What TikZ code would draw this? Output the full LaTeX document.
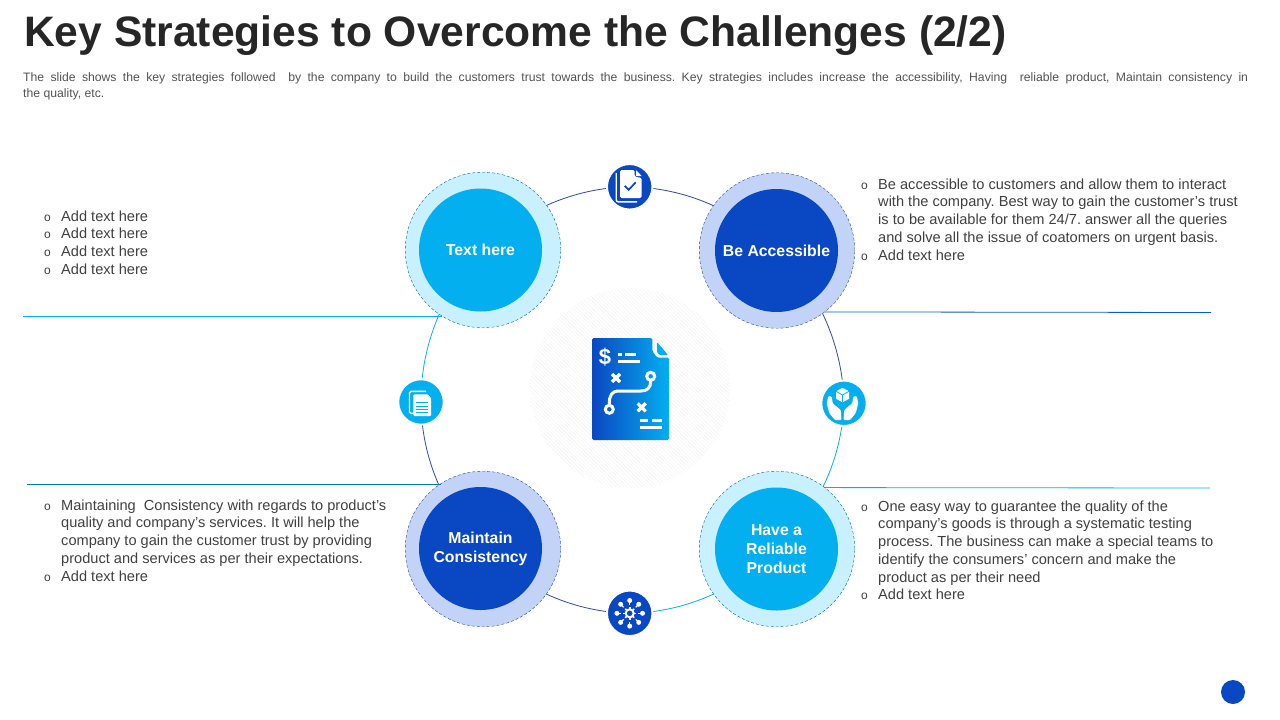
\documentclass[tikz,border=0pt]{standalone}
\usepackage{fontspec}
\setmainfont{Liberation Sans}
\usepackage{xcolor}
\usepackage{tikz}
\usetikzlibrary{positioning,backgrounds,patterns.meta}

\definecolor{keydark}{HTML}{0A47C2}
\definecolor{keylight}{HTML}{04AFF0}
\definecolor{haloDark}{HTML}{C3D3F7}
\definecolor{haloLight}{HTML}{C9F0FE}
\definecolor{ringDark}{HTML}{2B4AA0}
\definecolor{bodygray}{HTML}{404040}

\newcommand{\bul}{\llap{\fontsize{12}{12}\selectfont o\hspace{10.5pt}}}
\frenchspacing

\begin{document}
\begin{tikzpicture}[
    x=1pt, y=-1pt,
    halo/.style={circle, inner sep=0pt, minimum size=155.5pt, densely dashed, line width=.4pt},
    halodark/.style={halo, fill=haloDark, draw=ringDark},
    halolight/.style={halo, fill=haloLight, draw=keylight!60!black},
    core/.style={circle, inner sep=0pt, minimum size=123pt, align=center, text=white,
                 font=\fontsize{15.8}{19}\selectfont\bfseries},
    coredark/.style={core, fill=keydark},
    corelight/.style={core, fill=keylight},
    icondark/.style={circle, inner sep=0pt, minimum size=45.5pt, fill=keydark, draw=white, line width=2pt},
    iconlight/.style={circle, inner sep=0pt, minimum size=45.5pt, fill=keylight, draw=white, line width=2pt},
    bullets/.style={anchor=north west, inner sep=0pt, align=left, text=bodygray,
                    font=\fontsize{14.6}{17.7}\selectfont},
    ringseg/.style={bend left=22.5, looseness=.885},
    ringd/.style={ringDark, line width=.8pt},
    ringl/.style={keylight, line width=.8pt},
    glyph/.style={white, line width=3pt},
]
\useasboundingbox (0,0) rectangle (1280,720);

\node[anchor=base west, inner sep=0pt, text=black!85, font=\fontsize{42.6}{46}\selectfont\bfseries] (title) at (24,46)
    {Key Strategies to Overcome the Challenges (2/2)};
\node[anchor=north west, inner sep=0pt, text width=1225pt, align=justify, text=bodygray!90,
      font=\fontsize{12.2}{16.5}\selectfont] (intro) at (23,72)
    {The slide shows the key strategies followed \ by the company to build the customers trust towards the business. Key strategies includes increase the accessibility, Having \ reliable product, Maintain consistency in\linebreak the quality, etc.};

% the four main circles
\node[halolight] (textouter) at (483,250) {};
\node[corelight] (textcore) at (480.5,250) {Text here};
\node[halodark] (accessouter) at (777,250.5) {};
\node[coredark] (accesscore) at (776.5,250.5) {Be Accessible};
\node[halodark] (maintainouter) at (483,549) {};
\node[coredark] (maintaincore) at (480.5,548.5) {Maintain\\Consistency};
\node[halolight] (productouter) at (777,549) {};
\node[corelight] (productcore) at (776.5,549) {Have a\\Reliable\\Product};

% small icons on the ring
\node[icondark] (checkicon) at (629.7,186.8) {};
\node[iconlight] (boxicon) at (844,403.3) {};
\node[icondark] (neticon) at (629.7,613.3) {};
\node[iconlight] (docicon) at (421,402) {};

% free ends of the long rules
\coordinate (ruletl) at (23,316);
\coordinate (rulebl) at (27,484);
\coordinate (ruletr) at (1211,312.5);
\coordinate (rulebr) at (1210,488);

\begin{scope}[on background layer]
\fill[pattern={Lines[angle=-45,distance=2.6pt,line width=.3pt]}, pattern color=black!7] (630,388) circle (100);
\draw[ringd] (textouter.center) to[ringseg] (checkicon.center);
\draw[ringd] (checkicon.center) to[ringseg] (accessouter.center);
\draw[ringd] (accessouter.center) to[ringseg] (boxicon.center);
\draw[ringl] (boxicon.center) to[ringseg] (productouter.center);
\draw[ringl] (productouter.center) to[ringseg] (neticon.center);
\draw[ringd] (neticon.center) to[ringseg] (maintainouter.center);
\draw[ringd] (maintainouter.center) to[ringseg] (docicon.center);
\draw[ringl] (docicon.center) to[ringseg] (textouter.center);
\end{scope}

\draw[ringl] (ruletl) -- (ruletl -| textouter.238);
\draw[keylight!70!black, line width=.8pt] (rulebl) -- (rulebl -| maintainouter.123);
\draw[keydark!80!keylight, line width=.8pt] (ruletr) -- (accessouter.-52);
\draw[ringl] (rulebr) -- (productouter.52);

% text blocks
\node[bullets] (tltext) at (61,210.5) {\bul Add text here\\\bul Add text here\\\bul Add text here\\\bul Add text here};
\node[bullets] (trtext) at (878,178.5) {\bul Be accessible to customers and allow them to interact\\with the company. Best way to gain the customer's trust\\is to be available for them 24/7. answer all the queries\\and solve all the issue of coatomers on urgent basis.\\\bul Add text here};
\node[bullets] (bltext) at (61,499.5) {\bul Maintaining \ Consistency with regards to product's\\quality and company's services. It will help the\\company to gain the customer trust by providing\\product and services as per their expectations.\\\bul Add text here};
\node[bullets] (brtext) at (878,500.5) {\bul One easy way to guarantee the quality of the\\company's goods is through a systematic testing\\process. The business can make a special teams to\\identify the consumers' concern and make the\\product as per their need\\\bul Add text here};

\node[circle, inner sep=0pt, minimum size=24pt, fill=keydark] (pagedot) at (1233,692) {};

% centre document
\shade[left color=keydark, right color=keylight, rounded corners=1.5pt]
    (592,338) -- (652.3,338) -- (652.3,351) -- (657,357.5) -- (669,357.5) -- (669,440) -- (592,440) -- cycle;
\fill[keylight, rounded corners=1pt] (657,342) -- (668,355) -- (659.5,355) -- (657,352) -- cycle;
\node[text=white, inner sep=0pt, font=\fontsize{22}{22}\selectfont\bfseries] (dollar) at (605,357) {\$};
\draw[glyph] (618,354) -- (622,354) (625,354) -- (636,354) (618,361) -- (640,361);
\draw[glyph] (640,420) -- (648,420) (652,420) -- (662,420) (640,427.7) -- (662,427.7);
\draw[glyph, line width=3.2pt] (612,374) -- (620,382) (620,374) -- (612,382);
\draw[glyph, line width=3.2pt] (637.7,403.3) -- (645.7,411.3) (645.7,403.3) -- (637.7,411.3);
\draw[glyph] (650.7,381) .. controls (650.7,388) and (647,391) .. (641,391)
    -- (619,391) .. controls (612,391) and (609.3,395) .. (609.3,404);
\draw[glyph] (650.7,376.3) circle (4);
\draw[glyph] (609.3,409.3) circle (4);

% check icon
\begin{scope}[shift={(checkicon.center)}]
\draw[white, line width=1.4pt, rounded corners=2pt] (-13.5,-14) -- (-13.5,15) -- (7.5,15);
\fill[white, rounded corners=1.5pt] (-9.7,-16.8) -- (5,-16.8) -- (5,-10) -- (12,-9) -- (12,11.2) -- (-9.7,11.2) -- cycle;
\fill[white] (6.5,-16.5) -- (12,-10.8) -- (6.5,-10.8) -- cycle;
\draw[keydark, line width=1.7pt] (-5,-1) -- (-1,3) -- (6,-4.5);
\end{scope}

% hands icon
\begin{scope}[shift={(boxicon.center)}]
\fill[white] (-1.5,-15.5) -- (5,-12) -- (5,-4.5) -- (-1.5,-1) -- (-8,-4.5) -- (-8,-12) -- cycle;
\draw[keylight, line width=.8pt] (-8,-12) -- (-1.5,-8.3) -- (5,-12) (-1.5,-8.3) -- (-1.5,-1);
\fill[white, rounded corners=1pt] (-15.7,-7.3) -- (-12.3,-6.7) -- (-11.3,0) -- (-3.2,6.7) -- (-2.6,16.7) -- (-9,16.7) -- (-14.7,10) -- (-17.3,0) -- cycle;
\fill[white, rounded corners=1pt] (12.7,-7.3) -- (9.3,-6.7) -- (8.3,0) -- (.2,6.7) -- (-.4,16.7) -- (6,16.7) -- (11.7,10) -- (14.3,0) -- cycle;
\end{scope}

% doc icon
\begin{scope}[shift={(docicon.center)}]
\draw[white, line width=1.4pt, rounded corners=1.5pt] (5,-10.7) -- (-11.5,-10.7) -- (-11.5,11.3) -- (-7.5,11.3);
\fill[white, rounded corners=1pt] (-7.7,-7.7) -- (7,-7.7) -- (10,-4) -- (10,14) -- (-7.7,14) -- cycle;
\draw[keylight, line width=1pt] (-5,.7) -- (7.3,.7) (-5,4) -- (7.3,4) (-5,7.3) -- (7.3,7.3) (-5,10.7) -- (7.3,10.7);
\end{scope}

% network icon
\begin{scope}[shift={(neticon.center)}]
\foreach \ang in {0,45,...,315} {
    \draw[white, line width=1.2pt] (\ang:8.5) -- (\ang:12);
    \fill[white] (\ang:12.8) circle (2.5);
    \draw[white, line width=1.6pt] (\ang:4.5) -- (\ang:6.3);
}
\draw[white, line width=2pt] (0,0) circle (4);
\end{scope}
\end{tikzpicture}
\end{document}
